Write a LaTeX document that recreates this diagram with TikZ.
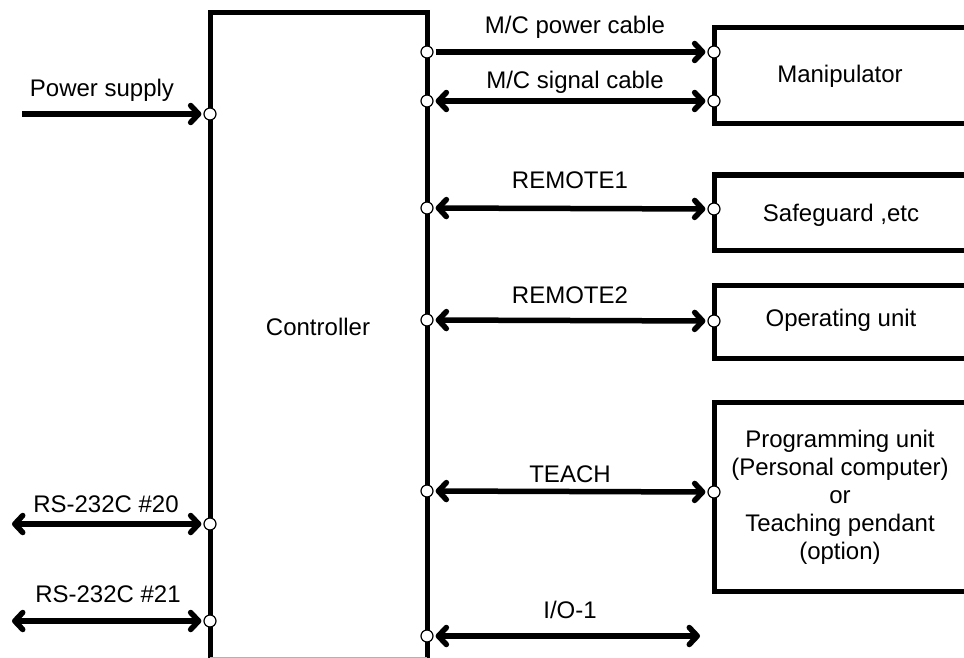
\documentclass[tikz,border=0pt]{standalone}
\usepackage{fontspec}
\setmainfont{Liberation Sans}
\usetikzlibrary{arrows.meta}
\begin{document}
\begin{tikzpicture}[x=1pt,y=-1pt,
  wire/.style={line width=5pt},
  conn/.style={line width=5.5pt, shorten <=2pt, shorten >=2pt,
    >={Straight Barb[length=8pt,width=17pt,round]}},
  port/.style={circle, draw, fill=white, line width=1.2pt, inner sep=0pt, minimum size=12pt},
  lbl/.style={font=\fontsize{24}{28}\selectfont, inner sep=0pt, anchor=base},
  boxtext/.style={font=\fontsize{24}{28}\selectfont, inner sep=0pt, align=center}]
\useasboundingbox (0,0) rectangle (964,658);

% controller
\draw[wire] (210,665) -- (210,13) -- (427,13) -- (427,665);
\draw[gray!60, line width=0.8pt] (210,657) -- (427,657);
\node[lbl] (ctrl) at (318,335) {Controller};

% right boxes (open at right)
\draw[wire] (975,28) -- (714,28) -- (714,124) -- (975,124);
\draw[wire] (975,175) -- (714,175) -- (714,250) -- (975,250);
\draw[wire] (975,285) -- (714,285) -- (714,358) -- (975,358);
\draw[wire] (975,402) -- (714,402) -- (714,591) -- (975,591);
\node[lbl] (manip) at (840,83) {Manipulator};
\node[lbl] (safe) at (841,221) {Safeguard ,etc};
\node[lbl] (oper) at (841,326) {Operating unit};
\node[boxtext] (prog) at (840,497) {Programming unit\\(Personal computer)\\or\\Teaching pendant\\(option)};

% ports on controller
\node[port] (ps) at (210,114) {};
\node[port] (r20) at (210,524) {};
\node[port] (r21) at (210,621) {};
\node[port] (mcp) at (427,52) {};
\node[port] (mcs) at (427,101) {};
\node[port] (re1) at (427,208) {};
\node[port] (re2) at (427,320) {};
\node[port] (tch) at (427,491) {};
\node[port] (io) at (427,636) {};
% ports on devices
\node[port] (mp1) at (714,52) {};
\node[port] (mp2) at (714,101) {};
\node[port] (sg) at (714,209) {};
\node[port] (op) at (714,321) {};
\node[port] (pg) at (714,492) {};

% free ends
\coordinate (psin) at (22,114);
\coordinate (l20) at (12,524);
\coordinate (l21) at (12,621);
\coordinate (ioend) at (700,636);

% connectors
\draw[conn,->,shorten <=0pt] (psin) -- (ps);
\draw[conn,<->,shorten <=0pt] (l20) -- (r20);
\draw[conn,<->,shorten <=0pt] (l21) -- (r21);
\draw[conn,->] (mcp) -- (mp1);
\draw[conn,<->] (mcs) -- (mp2);
\draw[conn,<->] (re1) -- (sg);
\draw[conn,<->] (re2) -- (op);
\draw[conn,<->] (tch) -- (pg);
\draw[conn,<->,shorten >=0pt] (io) -- (ioend);

% labels
\node[lbl] (lps) at (102,97) {Power supply};
\node[lbl] (l20t) at (106,512) {RS-232C \#20};
\node[lbl] (l21t) at (108,602) {RS-232C \#21};
\node[lbl] (lmcp) at (575,34) {M/C power cable};
\node[lbl] (lmcs) at (575,89) {M/C signal cable};
\node[lbl] (lre1) at (570,188) {REMOTE1};
\node[lbl] (lre2) at (570,303) {REMOTE2};
\node[lbl] (ltch) at (570,482) {TEACH};
\node[lbl] (lio) at (570,618) {I/O-1};
\end{tikzpicture}
\end{document}
